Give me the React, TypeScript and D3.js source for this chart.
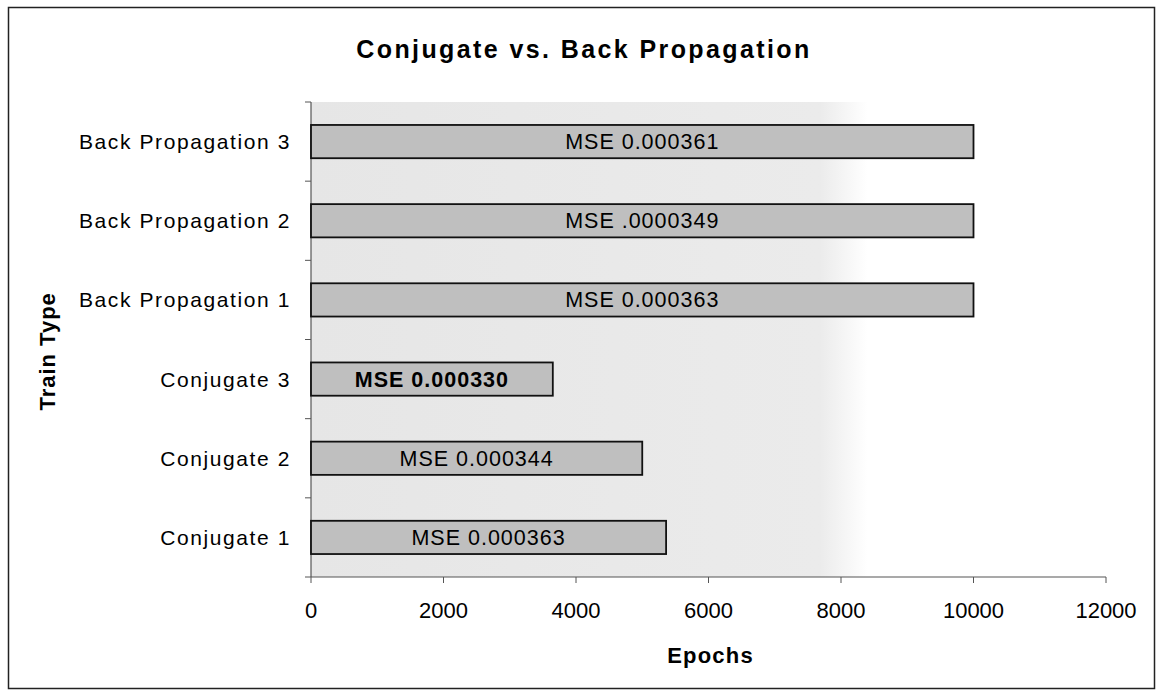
import React from 'react';
import * as d3 from 'd3';

// categories listed bottom to top as in the chart
const trainTypes = [
  'Conjugate 1',
  'Conjugate 2',
  'Conjugate 3',
  'Back Propagation 1',
  'Back Propagation 2',
  'Back Propagation 3',
];
const epochs = [5360, 5000, 3650, 10000, 10000, 10000];
const mseLabels = [
  'MSE 0.000363',
  'MSE 0.000344',
  'MSE 0.000330',
  'MSE 0.000363',
  'MSE .0000349',
  'MSE 0.000361',
];
const boldLabel = [false, false, true, false, false, false];
const xTicks = [0, 2000, 4000, 6000, 8000, 10000, 12000];

const W = 1157;
const H = 692;
const m = { left: 311, right: 51, top: 102, bottom: 115 };
const font = 'Arial, "Liberation Sans", sans-serif';

export default function App() {
  const x = d3.scaleLinear().domain([0, 12000]).range([m.left, W - m.right]);
  const y = d3
    .scaleBand()
    .domain([...trainTypes].reverse())
    .range([m.top, H - m.bottom])
    .paddingInner(0.58)
    .paddingOuter(0.29);
  const step = y.step();
  const y0 = H - m.bottom;

  // tick positions between categories
  const yTicks = d3.range(trainTypes.length + 1).map((i) => m.top + i * ((y0 - m.top) / trainTypes.length));

  return (
    <svg width={W} height={H} style={{ position: 'absolute', left: 0, top: 0 }} fontFamily={font}>
      <defs>
        <linearGradient id="bg" x1="0" x2="1" y1="0" y2="0">
          <stop offset="0" stopColor="#e6e6e6" />
          <stop offset="0.64" stopColor="#ebebeb" />
          <stop offset="0.7" stopColor="#ffffff" />
        </linearGradient>
      </defs>
      <rect x={0} y={0} width={W} height={H} fill="#fff" />
      <rect x={8.5} y={7.5} width={1146} height={681} fill="none" stroke="#222" strokeWidth={1.5} />

      <text x={584} y={58} textAnchor="middle" fontSize={25} fontWeight="bold" letterSpacing={2.4} fill="#000">
        Conjugate vs. Back Propagation
      </text>

      <rect x={m.left} y={m.top} width={x(12000) - m.left} height={y0 - m.top} fill="url(#bg)" />

      {/* y axis */}
      <line x1={m.left} x2={m.left} y1={m.top} y2={y0} stroke="#555" strokeWidth={1.2} />
      {yTicks.map((t, i) => (
        <line key={i} x1={m.left - 6} x2={m.left} y1={t} y2={t} stroke="#555" strokeWidth={1} />
      ))}

      {/* x axis */}
      <line x1={m.left} x2={x(12000)} y1={y0} y2={y0} stroke="#555" strokeWidth={1.2} />
      {xTicks.map((t) => (
        <g key={t}>
          <line x1={x(t)} x2={x(t)} y1={y0} y2={y0 + 6} stroke="#555" strokeWidth={1} />
          <text x={x(t)} y={y0 + 41} textAnchor="middle" fontSize={22} fill="#000">
            {t}
          </text>
        </g>
      ))}

      {trainTypes.map((c, i) => {
        const by = y(c)!;
        const bh = y.bandwidth();
        return (
          <g key={c}>
            <rect
              x={x(0)}
              y={by}
              width={x(epochs[i]) - x(0)}
              height={bh}
              fill="#bfbfbf"
              stroke="#111"
              strokeWidth={1.8}
            />
            <text
              x={(x(0) + x(epochs[i])) / 2}
              y={by + bh / 2 + 7.5}
              textAnchor="middle"
              fontSize={21.5}
              letterSpacing={1}
              fontWeight={boldLabel[i] ? 'bold' : 'normal'}
              fill="#000"
            >
              {mseLabels[i]}
            </text>
            <text x={291} y={by + bh / 2 + 7.5} textAnchor="end" fontSize={21} letterSpacing={1.6} fill="#000">
              {c}
            </text>
          </g>
        );
      })}

      <text x={(m.left + x(12000)) / 2 + 2} y={663} textAnchor="middle" fontSize={22} fontWeight="bold" letterSpacing={1.2} fill="#000">
        Epochs
      </text>
      <text
        transform={`translate(55, ${m.top + step * 3.15}) rotate(-90)`}
        textAnchor="middle"
        fontSize={22}
        fontWeight="bold"
        letterSpacing={1}
        fill="#000"
      >
        Train Type
      </text>
    </svg>
  );
}
